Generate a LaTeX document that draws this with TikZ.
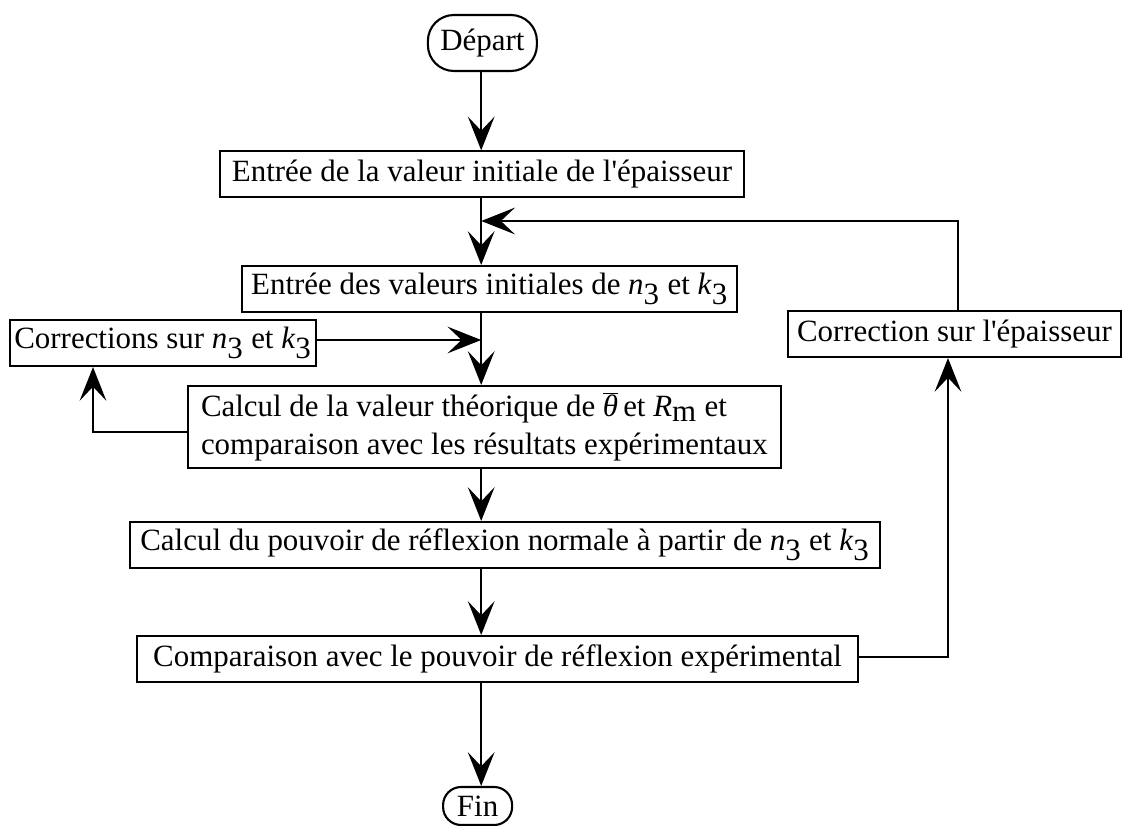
\documentclass[tikz,border=0pt]{standalone}
\usepackage{fontspec}
\setmainfont{Liberation Serif}
\usetikzlibrary{arrows.meta}

\newcommand{\nTrois}{\textit{n}$_{\textrm{3}}$}
\newcommand{\kTrois}{\textit{k}$_{\textrm{3}}$}

\begin{document}
\begin{tikzpicture}[
  boite/.style={draw, line width=1.5pt, inner sep=0pt, minimum height=1.15cm},
  terminal/.style={draw, line width=1.5pt, rounded corners=0.65cm, inner sep=0pt, minimum height=1.4cm},
  fleche/.style={line width=1.5pt, -{Stealth[length=24pt,width=19pt,inset=10pt]}},
  font=\fontsize{22}{27}\selectfont]
\useasboundingbox (0,0) rectangle (28.075,-20.65);

\coordinate (axe) at (12.03,0);
\coordinate (retour) at (12.03,-5.525);

\node[terminal, minimum width=2.725cm] (depart) at (12.06,-1.075) {Départ};
\node[boite, minimum width=13.1cm] (entree) at (12.05,-4.36) {Entrée de la valeur initiale de l\textquotesingle épaisseur};
\node[boite, minimum width=12.375cm] (valinit) at (12.24,-7.225) {Entrée des valeurs initiales de \nTrois{} et \kTrois};
\node[boite, minimum width=7.65cm] (corr) at (4.075,-8.575) {Corrections sur \nTrois{} et \kTrois};
\node[boite, minimum width=8.325cm] (epais) at (23.86,-8.35) {Correction sur l\textquotesingle épaisseur};
\node[boite, minimum width=14.825cm, minimum height=2.05cm, align=left] (calc) at (12.11,-10.675)
  {Calcul de la valeur théorique de $\overline{\mbox{\itshape θ}}$\,et \textit{R}$_{\textrm{m}}$ et\\
   comparaison avec les résultats expérimentaux};
\node[boite, minimum width=18.75cm] (pouvoir) at (12.625,-13.625) {Calcul du pouvoir de réflexion normale à partir de \nTrois{} et \kTrois};
\node[boite, minimum width=18.025cm] (comp) at (12.44,-16.475) {Comparaison avec le pouvoir de réflexion expérimental};
\node[terminal, rounded corners=0.45cm, minimum width=1.725cm, minimum height=0.95cm] (fin) at (11.94,-20.15) {Fin};

% chaine principale
\draw[fleche] (axe |- depart.south) -- (axe |- entree.north);
\draw[fleche] (axe |- entree.south) -- (axe |- valinit.north);
\draw[fleche] (axe |- valinit.south) -- (axe |- calc.north);
\draw[fleche] (axe |- calc.south) -- (axe |- pouvoir.north);
\draw[fleche] (axe |- pouvoir.south) -- (axe |- comp.north);
\draw[fleche] (axe |- comp.south) -- (axe |- fin.north);

% boucles
\draw[fleche] ([yshift=0.075cm]corr.east) -- ([yshift=0.075cm]corr.east -| axe);
\draw[fleche] ([yshift=-0.125cm]calc.west) -| ([xshift=-1.75cm]corr.south);
\draw[fleche] ([yshift=0.05cm]comp.east) -| ([xshift=-0.16cm]epais.south);
\draw[fleche] ([xshift=0.09cm]epais.north) |- (retour);
\end{tikzpicture}
\end{document}
